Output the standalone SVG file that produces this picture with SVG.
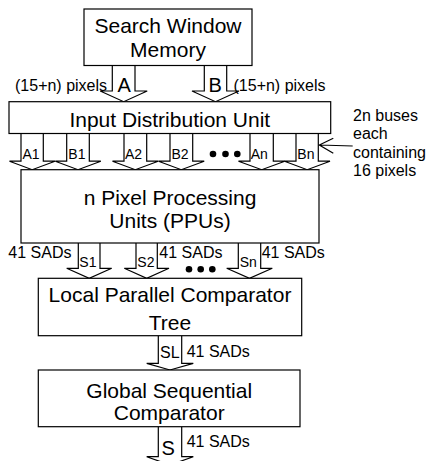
<svg xmlns="http://www.w3.org/2000/svg" width="427" height="461" viewBox="0 0 427 461">
<style>
.box{fill:#fff;stroke:#000;stroke-width:1.2}
.arr{fill:#fff;stroke:#000;stroke-width:1.2;stroke-linejoin:miter}
.ln{fill:none;stroke:#000;stroke-width:1.2}
text{font-family:"Liberation Sans",Arial,sans-serif;fill:#000}
.big{font-size:21px;text-anchor:middle}
.lab{font-size:14px}
.mid{font-size:16px}
.let{font-size:20px}
</style>
<rect width="427" height="461" fill="#fff"/>
<g id="connectors">
  <path class="arr" d="M112.3,65.5 V91 H100.2 L123.7,101.7 L147.2,91 H135 V65.5"/>
  <path class="arr" d="M204.3,65.5 V91 H192 L215.5,101.7 L239,91 H226.7 V65.5"/>
  <path class="arr" d="M21,133.5 V161.2 H9.5 L32.2,169.7 L55,161.2 H43.3 V133.5"/>
  <path class="arr" d="M66.7,133.5 V161.2 H55.3 L78,169.7 L100.8,161.2 H89.3 V133.5"/>
  <path class="arr" d="M124,133.5 V161.2 H112.5 L135.3,169.7 L158.2,161.2 H146.7 V133.5"/>
  <path class="arr" d="M170,133.5 V161.2 H158.5 L181.3,169.7 L204.2,161.2 H192.7 V133.5"/>
  <path class="arr" d="M250,133.5 V161.2 H238.5 L261.7,169.7 L284.8,161.2 H273.3 V133.5"/>
  <path class="arr" d="M296,133.5 V161.2 H284.5 L307.2,169.7 L330,161.2 H318.3 V133.5"/>
  <path class="arr" d="M78.3,243 V268.3 H66.7 L89.2,278.3 L111.7,268.3 H100 V243"/>
  <path class="arr" d="M136,243 V268.3 H124.3 L146.7,278.3 L169,268.3 H157.3 V243"/>
  <path class="arr" d="M238.3,243 V268.3 H226.7 L249.5,278.3 L272.3,268.3 H260.7 V243"/>
  <path class="arr" d="M158.3,335.7 V363.3 H146.7 L170,370 L193.3,363.3 H181.7 V335.7"/>
  <path class="arr" d="M158.3,426.7 V456.7 H146.7 L170,465 L193.3,456.7 H181.7 V426.7"/>
  <path class="ln" d="M319.3,145 L352.7,146 M333.3,138.3 L319.3,145 L333.3,153.3"/>
</g>
<g id="swm">
  <rect class="box" x="84" y="9" width="168" height="56.5"/>
  <text class="big" x="168" y="33.3">Search Window</text>
  <text class="big" x="168" y="57.3">Memory</text>
</g>
<g id="idu">
  <rect class="box" x="9" y="101.7" width="321.7" height="31.8"/>
  <text class="big" x="169.8" y="127">Input Distribution Unit</text>
</g>
<g id="ppu">
  <rect class="box" x="21" y="169.7" width="298" height="73.3"/>
  <text class="big" x="170" y="205">n Pixel Processing</text>
  <text class="big" x="170" y="228">Units (PPUs)</text>
</g>
<g id="lpct">
  <rect class="box" x="38.3" y="278.3" width="263.4" height="57.4"/>
  <text class="big" x="170" y="302">Local Parallel Comparator</text>
  <text class="big" x="170" y="330">Tree</text>
</g>
<g id="gsc">
  <rect class="box" x="38.3" y="370" width="261.7" height="56.7"/>
  <text class="big" x="169.2" y="398.3">Global Sequential</text>
  <text class="big" x="169.2" y="420">Comparator</text>
</g>
<g id="labels">
  <text class="mid" x="15" y="90.5">(15+n) pixels</text>
  <text class="mid" x="233.5" y="90.5">(15+n) pixels</text>
  <text class="let" x="117.5" y="92">A</text>
  <text class="let" x="208.5" y="92">B</text>
  <text class="lab" x="22.5" y="158.5">A1</text>
  <text class="lab" x="68.3" y="158.5">B1</text>
  <text class="lab" x="125" y="158.5">A2</text>
  <text class="lab" x="171.5" y="158.5">B2</text>
  <text class="lab" x="250.7" y="158.5">An</text>
  <text class="lab" x="297.3" y="158.5">Bn</text>
  <circle cx="213" cy="154" r="3.3"/>
  <circle cx="225.5" cy="154" r="3.3"/>
  <circle cx="237.3" cy="154" r="3.3"/>
  <text class="mid" x="353" y="120.5">2n buses</text>
  <text class="mid" x="353" y="139">each</text>
  <text class="mid" x="353" y="157.5">containing</text>
  <text class="mid" x="353" y="176">16 pixels</text>
  <text class="mid" x="8.3" y="258.3">41 SADs</text>
  <text class="mid" x="159.3" y="258.3">41 SADs</text>
  <text class="mid" x="261.7" y="258.3">41 SADs</text>
  <text class="lab" x="79.3" y="266.7">S1</text>
  <text class="lab" x="137.3" y="266.7">S2</text>
  <text class="lab" x="239.7" y="266.7">Sn</text>
  <circle cx="189" cy="269.3" r="3.3"/>
  <circle cx="200.7" cy="269.3" r="3.3"/>
  <circle cx="212.3" cy="269.3" r="3.3"/>
  <text class="mid" x="160" y="358.3">SL</text>
  <text class="mid" x="186.7" y="356.7">41 SADs</text>
  <text class="let" x="161.5" y="455">S</text>
  <text class="mid" x="186.7" y="446.7">41 SADs</text>
</g>
</svg>
